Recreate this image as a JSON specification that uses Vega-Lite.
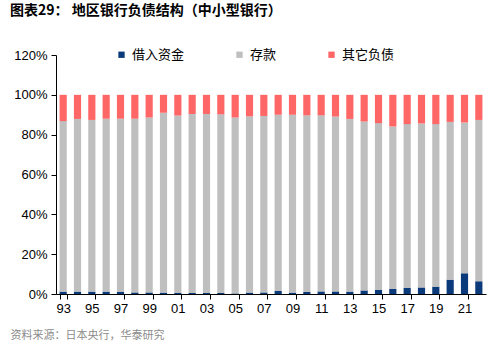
{
  "$schema": "https://vega.github.io/schema/vega-lite/v6.json",
  "width": 500,
  "height": 351,
  "autosize": {"type": "fit", "contains": "padding"},
  "padding": {"left": 10, "right": 14, "top": 4, "bottom": 11},
  "background": "white",
  "title": {
    "text": "图表29：  地区银行负债结构（中小型银行）",
    "anchor": "start",
    "frame": "bounds",
    "font": "Noto Sans CJK SC",
    "fontSize": 14,
    "fontWeight": "bold",
    "color": "#000000",
    "offset": 31
  },
  "datasets": {
    "bars": [
      {"year": 1993, "借入资金": 1.2, "存款": 85.6, "其它负债": 13.2},
      {"year": 1994, "借入资金": 1.2, "存款": 86.7, "其它负债": 12.1},
      {"year": 1995, "借入资金": 1.2, "存款": 86.2, "其它负债": 12.6},
      {"year": 1996, "借入资金": 1.2, "存款": 86.8, "其它负债": 12.0},
      {"year": 1997, "借入资金": 1.0, "存款": 87.0, "其它负债": 12.0},
      {"year": 1998, "借入资金": 0.8, "存款": 87.2, "其它负债": 12.0},
      {"year": 1999, "借入资金": 0.8, "存款": 87.8, "其它负债": 11.4},
      {"year": 2000, "借入资金": 0.7, "存款": 90.3, "其它负债": 9.0},
      {"year": 2001, "借入资金": 0.5, "存款": 89.1, "其它负债": 10.4},
      {"year": 2002, "借入资金": 0.5, "存款": 89.9, "其它负债": 9.6},
      {"year": 2003, "借入资金": 0.5, "存款": 89.9, "其它负债": 9.6},
      {"year": 2004, "借入资金": 0.5, "存款": 89.7, "其它负债": 9.8},
      {"year": 2005, "借入资金": 0.3, "存款": 88.3, "其它负债": 11.4},
      {"year": 2006, "借入资金": 0.7, "存款": 88.5, "其它负债": 10.8},
      {"year": 2007, "借入资金": 0.8, "存款": 88.6, "其它负债": 10.6},
      {"year": 2008, "借入资金": 1.5, "存款": 88.5, "其它负债": 10.0},
      {"year": 2009, "借入资金": 0.7, "存款": 89.3, "其它负债": 10.0},
      {"year": 2010, "借入资金": 1.0, "存款": 88.7, "其它负债": 10.3},
      {"year": 2011, "借入资金": 1.3, "存款": 88.4, "其它负债": 10.3},
      {"year": 2012, "借入资金": 1.3, "存款": 87.8, "其它负债": 10.9},
      {"year": 2013, "借入资金": 1.2, "存款": 86.7, "其它负债": 12.1},
      {"year": 2014, "借入资金": 1.8, "存款": 84.8, "其它负债": 13.4},
      {"year": 2015, "借入资金": 2.0, "存款": 83.8, "其它负债": 14.2},
      {"year": 2016, "借入资金": 2.5, "存款": 81.6, "其它负债": 15.9},
      {"year": 2017, "借入资金": 3.0, "存款": 82.3, "其它负债": 14.7},
      {"year": 2018, "借入资金": 3.3, "存款": 82.3, "其它负债": 14.4},
      {"year": 2019, "借入资金": 3.7, "存款": 81.6, "其它负债": 14.7},
      {"year": 2020, "借入资金": 7.2, "存款": 79.2, "其它负债": 13.6},
      {"year": 2021, "借入资金": 10.4, "存款": 75.7, "其它负债": 13.9},
      {"year": 2022, "借入资金": 6.4, "存款": 81.0, "其它负债": 12.6}
    ],
    "seriesOrder": [
      {"key": "借入资金", "rank": 1},
      {"key": "存款", "rank": 2},
      {"key": "其它负债", "rank": 3}
    ]
  },
  "data": {"name": "bars"},
  "transform": [
    {"fold": ["借入资金", "存款", "其它负债"], "as": ["key", "value"]},
    {"lookup": "key", "from": {"data": {"name": "seriesOrder"}, "key": "key", "fields": ["rank"]}}
  ],
  "mark": {"type": "bar"},
  "encoding": {
    "x": {
      "field": "year",
      "type": "ordinal",
      "scale": {"paddingInner": 0.5, "paddingOuter": 0.25},
      "axis": {
        "values": [1993, 1995, 1997, 1999, 2001, 2003, 2005, 2007, 2009, 2011, 2013, 2015, 2017, 2019, 2021],
        "labelExpr": "datum.value ? substring(toString(datum.value), 2, 4) : ''",
        "labelAngle": 0,
        "tickBand": "extent",
        "tickSize": 5,
        "tickColor": "#000000",
        "domainColor": "#000000",
        "labelFont": "Liberation Sans",
        "labelFontSize": 13,
        "labelColor": "#000000",
        "labelPadding": 3,
        "title": "资料来源：日本央行，华泰研究",
        "titleAnchor": "start",
        "titleAlign": "left",
        "titleX": -46,
        "titleFont": "Noto Sans CJK SC",
        "titleFontSize": 11,
        "titleFontWeight": "normal",
        "titleColor": "#8c8c8c",
        "titlePadding": 14
      }
    },
    "y": {
      "field": "value",
      "type": "quantitative",
      "stack": "zero",
      "scale": {"domain": [0, 120], "nice": false},
      "axis": {
        "values": [0, 20, 40, 60, 80, 100, 120],
        "labelExpr": "datum.value + '%'",
        "grid": false,
        "tickSize": 5,
        "tickColor": "#000000",
        "domainColor": "#000000",
        "labelFont": "Liberation Sans",
        "labelFontSize": 13,
        "labelColor": "#000000",
        "labelPadding": 4,
        "title": null
      }
    },
    "color": {
      "field": "key",
      "type": "nominal",
      "scale": {
        "domain": ["借入资金", "存款", "其它负债"],
        "range": ["#0b3a7a", "#bfbfbf", "#ff6666"]
      },
      "legend": {
        "title": null,
        "orient": "none",
        "direction": "horizontal",
        "legendX": 59,
        "legendY": -7,
        "symbolType": "square",
        "symbolSize": 40,
        "symbolStrokeWidth": 0,
        "labelFont": "Noto Sans CJK SC",
        "labelFontSize": 13,
        "labelColor": "#000000",
        "labelOffset": 4,
        "columnPadding": 48
      }
    },
    "order": {"field": "rank", "type": "quantitative"}
  },
  "config": {"view": {"stroke": null}}
}
